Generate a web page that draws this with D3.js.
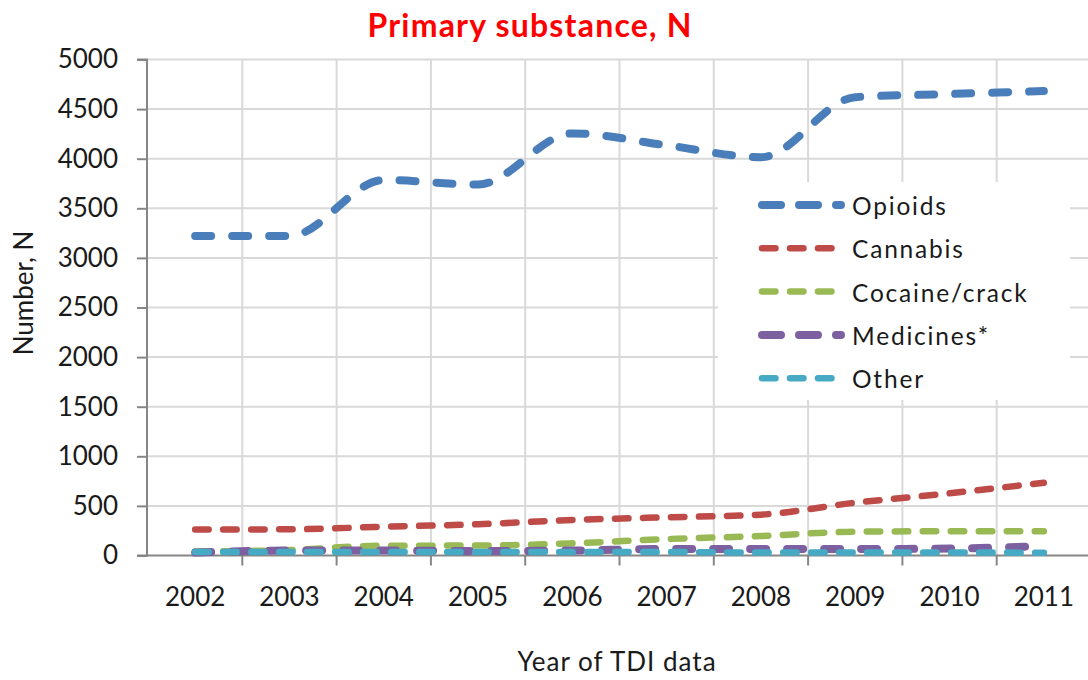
<!DOCTYPE html>
<html>
<head>
<meta charset="utf-8">
<script src="https://cdn.jsdelivr.net/npm/d3@7"></script>
<style>
  html, body { margin: 0; padding: 0; background: #fff; }
  svg { display: block; }
  text { font-family: Lato, "Noto Sans", sans-serif; fill: #1a1a1a; }
</style>
</head>
<body>
<svg id="chart" width="1088" height="680"></svg>
<script>
const years = ["2002","2003","2004","2005","2006","2007","2008","2009","2010","2011"];
const seriesNames = ["Opioids","Cannabis","Cocaine/crack","Medicines*","Other"];
const opioids   = [3220, 3220, 3785, 3740, 4255, 4135, 4015, 4620, 4652, 4682];
const cannabis  = [262, 264, 290, 315, 358, 385, 412, 532, 627, 734];
const cocaine   = [40, 55, 99, 100, 123, 166, 196, 240, 244, 244];
const medicines = [30, 50, 50, 45, 50, 65, 65, 65, 70, 95];
const other     = [35, 35, 35, 35, 35, 35, 30, 30, 30, 28];
const yTicks = [0,500,1000,1500,2000,2500,3000,3500,4000,4500,5000];
const titleText = "Primary substance, N";
const xTitle = "Year of TDI data";
const yTitle = "Number, N";

const colors = ["#4A7EBB", "#BE4B48", "#98B954", "#7D60A0", "#46AAC5"];
const widths = [8, 6.5, 6.5, 8, 6.5];
const dashes = ["16,21", "13.5,14.5", "13.5,14.5", "16,21", "13.5,14.5"];
const values = [opioids, cannabis, cocaine, medicines, other];

const svg = d3.select("#chart");
const pLeft = 148, pRight = 1091, pTop = 59.5, pBottom = 555.5;

const x = d3.scaleBand().domain(years).range([pLeft, pRight]).padding(0);
const y = d3.scaleLinear().domain([0, 5000]).range([pBottom, pTop]);

// gridlines
const grid = svg.append("g");
grid.selectAll("line.h").data(yTicks.filter(d => d > 0)).enter().append("line")
  .attr("x1", pLeft).attr("x2", 1088)
  .attr("y1", d => y(d)).attr("y2", d => y(d))
  .attr("stroke", "#D9D9D9").attr("stroke-width", 2);
grid.selectAll("line.v").data(years.slice(1)).enter().append("line")
  .attr("x1", d => x(d)).attr("x2", d => x(d))
  .attr("y1", pTop).attr("y2", pBottom)
  .attr("stroke", "#D9D9D9").attr("stroke-width", 2);

// y axis
const yAxis = svg.append("g").attr("transform", `translate(${pLeft - 1},0)`)
  .call(d3.axisLeft(y).tickValues(yTicks).tickSize(10).tickPadding(19).tickFormat(d3.format("d")));
yAxis.select(".domain").attr("stroke", "#868686").attr("stroke-width", 2)
  .attr("d", `M-10,${y(5000)}H0V${y(0)}H-10`);
yAxis.selectAll(".tick line").attr("stroke", "#868686").attr("stroke-width", 2);
yAxis.selectAll(".tick text").style("font-size", "26px").attr("fill", "#1a1a1a")
  .style("font-family", "Lato, sans-serif");

// x axis
const xAxis = svg.append("g").attr("transform", `translate(0,${pBottom})`);
xAxis.append("line").attr("x1", pLeft - 2).attr("x2", 1088).attr("y1", 0).attr("y2", 0)
  .attr("stroke", "#868686").attr("stroke-width", 2);
xAxis.selectAll("line.tk").data(years.slice(1)).enter().append("line")
  .attr("x1", d => x(d)).attr("x2", d => x(d)).attr("y1", 0).attr("y2", 10)
  .attr("stroke", "#868686").attr("stroke-width", 2);
xAxis.selectAll("text.yr").data(years).enter().append("text")
  .attr("x", d => x(d) + x.bandwidth() / 2).attr("y", 50)
  .attr("text-anchor", "middle").style("font-size", "26px").text(d => d);

// lines
const line = d3.line()
  .x((d, i) => x(years[i]) + x.bandwidth() / 2)
  .y(d => y(d))
  .curve(d3.curveMonotoneX);

values.forEach((vals, k) => {
  svg.append("path").datum(vals)
    .attr("d", line)
    .attr("fill", "none")
    .attr("stroke", colors[k])
    .attr("stroke-width", widths[k])
    .attr("stroke-dasharray", dashes[k])
    .attr("stroke-linecap", "round");
});

// legend
const lg = svg.append("g");
lg.append("rect").attr("x", 718).attr("y", 182).attr("width", 352).attr("height", 218).attr("fill", "#fff");
seriesNames.forEach((name, k) => {
  const cy = 205 + k * 43.3;
  const thick = widths[k] > 7;
  lg.append("line")
    .attr("x1", 762).attr("x2", thick ? 841 : 833)
    .attr("y1", cy).attr("y2", cy)
    .attr("stroke", colors[k]).attr("stroke-width", widths[k])
    .attr("stroke-dasharray", thick ? "19,18" : "13.5,14.5")
    .attr("stroke-linecap", "round");
  lg.append("text").attr("x", 852).attr("y", cy + 10)
    .style("font-size", "24.5px").style("letter-spacing", "1.8px").text(name);
});

// titles
svg.append("text").attr("x", 530).attr("y", 37).attr("text-anchor", "middle")
  .style("font-size", "32px").style("font-weight", "bold").style("letter-spacing", "1.2px")
  .attr("fill", "#FF0000").style("fill", "#FF0000").text(titleText);
svg.append("text").attr("x", 617).attr("y", 671).attr("text-anchor", "middle")
  .style("font-size", "26px").style("letter-spacing", "1px").text(xTitle);
svg.append("text").attr("transform", "translate(33,293) rotate(-90)").attr("text-anchor", "middle")
  .style("font-size", "26px").text(yTitle);
</script>
</body>
</html>
